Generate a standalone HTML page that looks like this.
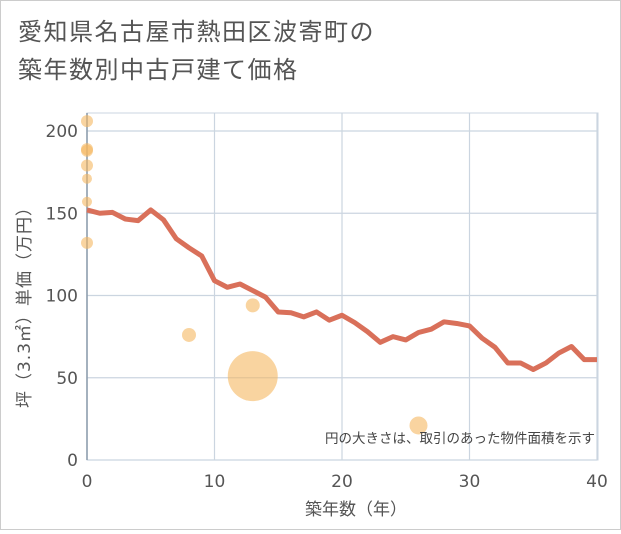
<!DOCTYPE html>
<html><head><meta charset="utf-8"><style>
body{margin:0;background:#fff;font-family:"DejaVu Sans","Noto Sans CJK JP",sans-serif}
</style></head><body>
<svg width="621" height="530" xmlns="http://www.w3.org/2000/svg">
<rect x="0.5" y="0.5" width="620" height="529" fill="#fff" stroke="#ccc"/>
<text x="18" y="40" font-size="24" letter-spacing="1.5" fill="#555" style="font-family:'DejaVu Sans','Noto Sans CJK JP',sans-serif">愛知県名古屋市熱田区波寄町の</text>
<text x="18" y="78" font-size="24" letter-spacing="1.5" fill="#555" style="font-family:'DejaVu Sans','Noto Sans CJK JP',sans-serif">築年数別中古戸建て価格</text>
<g id="grid"></g><g id="marks"></g>
<text x="595" y="443" font-size="13.5" fill="#444" text-anchor="end" style="font-family:'DejaVu Sans','Noto Sans CJK JP',sans-serif">円の大きさは、取引のあった物件面積を示す</text>
<text x="356" y="515" font-size="17" fill="#555" text-anchor="middle" style="font-family:'DejaVu Sans','Noto Sans CJK JP',sans-serif">築年数（年）</text>
<text transform="translate(30,303) rotate(-90)" font-size="17" letter-spacing="1" fill="#555" text-anchor="middle" style="font-family:'DejaVu Sans','Noto Sans CJK JP',sans-serif">坪（3.3㎡）単価（万円）</text>
</svg>
<script>
const xTicks=[0,10,20,30,40];
const yTicks=[0,50,100,150,200];
const years=[0,1,2,3,4,5,6,7,8,9,10,11,12,13,14,15,16,17,18,19,20,21,22,23,24,25,26,27,28,29,30,31,32,33,34,35,36,37,38,39,40];
const avgPrice=[152,150,150.5,146.5,145.5,152,146,134.5,129,124,109,105,107,103,99,90,89.5,87,90,85,88,83.5,78,71.5,75,73,77.5,79.5,84,83,81.5,74,68.5,59,59,55,59,65,69,61,61];
const ptYears=[0,0,0,0,0,0,0,8,13,13,26];
const ptPrices=[206,189,188,179,171,157,132,76,94,51,21];
const ptRadius=[6,6,6,6,5,5,6,7,7,25,9];
const NS="http://www.w3.org/2000/svg";
const X0=87,X1=597,Y0=460,Y1=131;
const xs=v=>X0+(v-0)/40*(X1-X0);
const ys=v=>Y0-v/200*(Y0-Y1);
const grid=document.getElementById('grid'),marks=document.getElementById('marks');
function mk(tag,attrs,parent){const e=document.createElementNS(NS,tag);for(const k in attrs)e.setAttribute(k,attrs[k]);parent.appendChild(e);return e;}
mk('rect',{x:X0,y:113,width:X1-X0+1,height:Y0-113,fill:'#fff',stroke:'#cbd5e0'},grid);
xTicks.forEach(t=>{const l=mk('line',{x1:xs(t),x2:xs(t),y1:113,y2:Y0,stroke:'#cbd5e0','stroke-width':1.2},grid);


const tx=mk('text',{x:xs(t),y:Y0+27,'font-size':17,fill:'#555','text-anchor':'middle'},grid);tx.textContent=t;

});
yTicks.forEach(t=>{const l=mk('line',{x1:X0,x2:X1,y1:ys(t),y2:ys(t),stroke:'#cbd5e0','stroke-width':1.2},grid);


const tx=mk('text',{x:X0-9,y:ys(t)+6,'font-size':17,fill:'#555','text-anchor':'end'},grid);tx.textContent=t;

});
mk('line',{x1:X0,x2:X0,y1:113,y2:Y0,stroke:'#8a9aaa','stroke-width':1.5},grid);
ptYears.forEach((y,i)=>{const c=mk('circle',{cx:xs(y),cy:ys(ptPrices[i]),r:ptRadius[i],fill:'#f5b860','fill-opacity':0.6},marks);

});
const p=mk('polyline',{points:years.map((y,i)=>xs(y)+','+ys(avgPrice[i])).join(' '),fill:'none',stroke:'#d9705a','stroke-width':5,'stroke-linejoin':'round'},marks);


</script>
</body></html>
